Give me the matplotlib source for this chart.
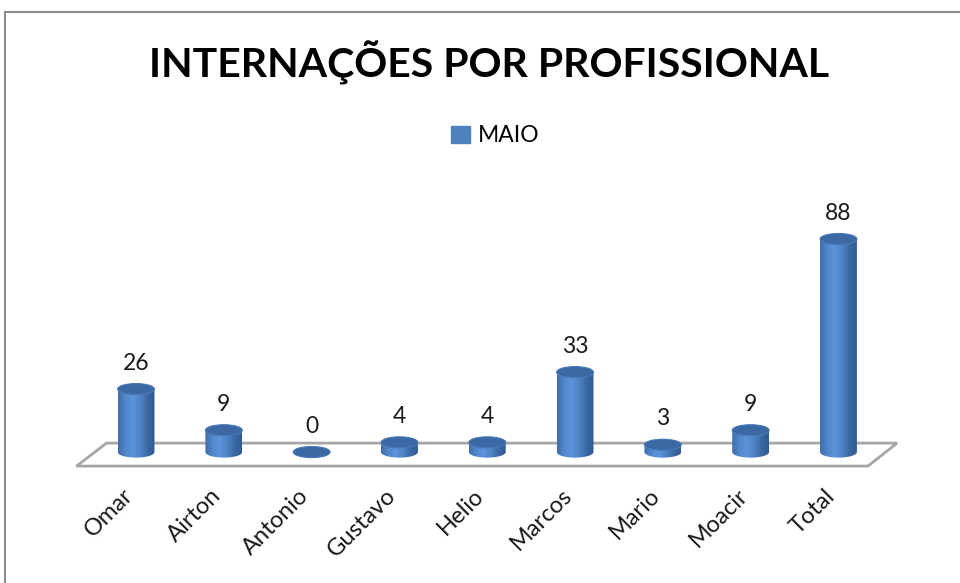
import numpy as np
import matplotlib.pyplot as plt
import matplotlib.transforms as mtransforms
from matplotlib.patches import Ellipse, Polygon, Rectangle, Patch
from matplotlib.colors import LinearSegmentedColormap

profissionais = ["Omar", "Airton", "Antonio", "Gustavo", "Helio", "Marcos", "Mario", "Moacir", "Total"]
maio = [26, 9, 0, 4, 4, 33, 3, 9, 88]
serie = "MAIO"
titulo = "INTERNAÇÕES POR PROFISSIONAL"

plt.rcParams['font.family'] = ['Lato', 'DejaVu Sans']

fig = plt.figure(figsize=(9.6, 5.83), dpi=100)
ax = fig.add_axes([0.0731, 0.1914, 0.8689, 0.4484])
ax.set_xlim(-0.75, 8.75)
ax.set_ylim(-8, 100)

# moldura cinza
fig.patches.append(Rectangle((4.5 / 960, -0.05), 1.1, 1 - 12.5 / 583 + 0.05,
                             transform=fig.transFigure, fill=False,
                             edgecolor="#8c8c8c", linewidth=1.5))

# piso em perspectiva
piso = Polygon([(-0.678, -5.8), (8.336, -5.8), (8.667, 3.7), (-0.336, 3.7)],
               closed=True, facecolor="white", edgecolor="#a6a6a6", linewidth=2, zorder=1)
ax.add_patch(piso)

grad = LinearSegmentedColormap.from_list(
    "cil", ["#3f6dab", "#5288cc", "#5d93d8", "#4f84c6", "#3d69a4", "#2f5a92"])
largura = 0.42
elipse_h = 4.6

for i, v in enumerate(maio):
    t = np.linspace(np.pi, 2 * np.pi, 40)
    baixo = np.column_stack([i + largura / 2 * np.cos(t), elipse_h / 2 * np.sin(t)])
    t2 = np.linspace(0, np.pi, 40)
    cima = np.column_stack([i + largura / 2 * np.cos(t2), v + elipse_h / 2 * np.sin(t2)])
    contorno = Polygon(np.vstack([baixo, cima]), closed=True, facecolor="none",
                       edgecolor="none", zorder=2)
    ax.add_patch(contorno)
    img = ax.imshow(np.linspace(0, 1, 64).reshape(1, -1), cmap=grad, aspect="auto",
                    extent=(i - largura / 2, i + largura / 2, -elipse_h / 2, v + elipse_h / 2),
                    zorder=2, interpolation="bilinear")
    img.set_clip_path(contorno)
    topo = Ellipse((i, v), largura, elipse_h, facecolor="#3c68a3", edgecolor="#4a7bbb",
                   linewidth=0.8, zorder=3)
    ax.add_patch(topo)
    ax.text(i, v + 10.7, str(v), ha="center", va="center", fontsize=16.5,
            color="#1a1a1a", zorder=4)

ax.set_xlim(-0.75, 8.75)
ax.set_ylim(-8, 100)
ax.set_xticks(range(len(profissionais)))
ax.set_xticklabels(profissionais, rotation=45, ha="right", va="top",
                   rotation_mode="anchor", fontsize=17, color="#1a1a1a")
ax.tick_params(axis="x", length=0, pad=4)
desloc = mtransforms.ScaledTranslation(-0.14, -0.08, fig.dpi_scale_trans)
for lbl in ax.get_xticklabels():
    lbl.set_transform(lbl.get_transform() + desloc)
ax.set_yticks([])
for s in ax.spines.values():
    s.set_visible(False)
ax.patch.set_visible(False)

fig.text(0.509, 0.892, titulo, ha="center", va="center", fontsize=29.5,
         fontweight="bold", color="black")

fig.legend(handles=[Patch(facecolor="#4f81bd", edgecolor="#4f81bd")], labels=[serie],
           loc="center", bbox_to_anchor=(0.516, 0.767), frameon=False,
           handlelength=0.8, handleheight=0.8, handletextpad=0.35, fontsize=16.5)

fig.savefig("out.png", dpi=100)
